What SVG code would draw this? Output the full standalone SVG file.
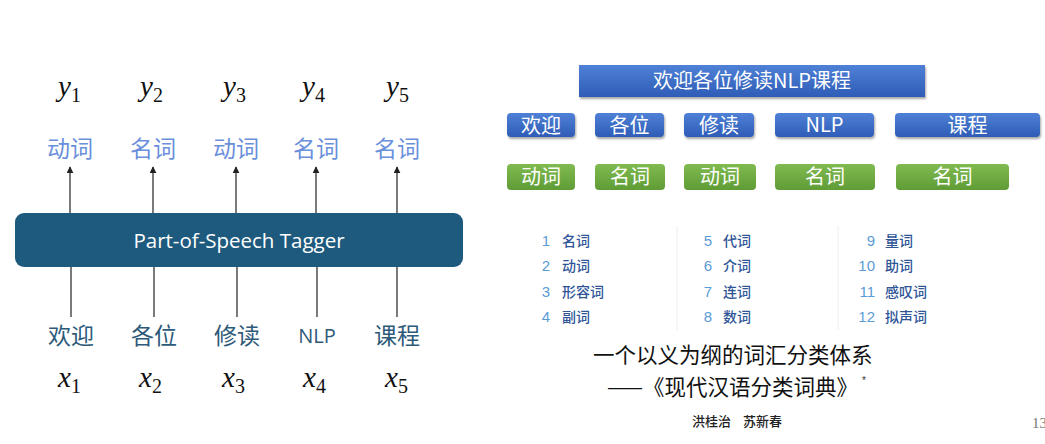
<svg xmlns="http://www.w3.org/2000/svg" width="1045" height="444" viewBox="0 0 1045 444">
  <style>
    .math { font-family: "Liberation Serif", "DejaVu Serif", serif; font-style: italic; font-size: 29px; fill: #111; }
    .sub { font-style: normal; font-size: 20px; }
    .pos { font-family: "Noto Sans CJK SC", "Noto Sans", sans-serif; font-size: 23px; fill: #6a8fdb; text-anchor: middle; }
    .word { font-family: "Noto Sans CJK SC", "Noto Sans", sans-serif; font-size: 23px; fill: #2e5a7a; text-anchor: middle; }
    .nlp { font-family: "Open Sans", "Noto Sans", sans-serif; font-size: 20px; }
    .tagger { font-family: "Open Sans", "Noto Sans", sans-serif; font-size: 20.5px; fill: #ffffff; text-anchor: middle; }
    .link { stroke: #333; stroke-width: 1.3; fill: none; }
    .btxt { font-family: "Noto Sans CJK SC", "Noto Sans", sans-serif; font-size: 20px; fill: #ffffff; text-anchor: middle; }
    .lnum { font-family: "Liberation Sans", "Noto Sans", sans-serif; font-size: 15px; fill: #5b9bd5; text-anchor: end; }
    .lword { font-family: "Noto Sans CJK SC", sans-serif; font-size: 14px; font-weight: 500; fill: #2f5597; }
    .big { font-family: "Noto Sans CJK SC", sans-serif; font-size: 21.5px; fill: #111; }
    .author { font-family: "Noto Sans CJK SC", sans-serif; font-size: 13px; font-weight: 500; fill: #222; }
  </style>
  <defs>
    <marker id="arrow" viewBox="0 0 10 10" refX="9" refY="5" markerWidth="7" markerHeight="7" markerUnits="userSpaceOnUse" orient="auto">
      <path d="M0,0 L10,5 L0,10 Z" fill="#222"/>
    </marker>
    <linearGradient id="blueGrad" x1="0" y1="0" x2="0" y2="1">
      <stop offset="0" stop-color="#4f81d6"/>
      <stop offset="1" stop-color="#2e5cb6"/>
    </linearGradient>
    <linearGradient id="greenGrad" x1="0" y1="0" x2="0" y2="1">
      <stop offset="0" stop-color="#80bb50"/>
      <stop offset="1" stop-color="#5f9c36"/>
    </linearGradient>
    <filter id="shadow" x="-10%" y="-30%" width="120%" height="170%">
      <feDropShadow dx="1" dy="2" stdDeviation="1.2" flood-color="#000" flood-opacity="0.35"/>
    </filter>
  </defs>

  <!-- Left: tagger pipeline -->
  <g id="outputs">
    <text class="math" x="58" y="96">y<tspan class="sub" dy="6">1</tspan></text>
    <text class="math" x="140" y="96">y<tspan class="sub" dy="6">2</tspan></text>
    <text class="math" x="223" y="96">y<tspan class="sub" dy="6">3</tspan></text>
    <text class="math" x="302" y="96">y<tspan class="sub" dy="6">4</tspan></text>
    <text class="math" x="386" y="96">y<tspan class="sub" dy="6">5</tspan></text>
  </g>
  <g id="tags">
    <text class="pos" x="70" y="157">动词</text>
    <text class="pos" x="153" y="157">名词</text>
    <text class="pos" x="236" y="157">动词</text>
    <text class="pos" x="316" y="157">名词</text>
    <text class="pos" x="397" y="157">名词</text>
  </g>
  <g id="connectors">
    <line class="link" x1="70" y1="213" x2="70" y2="167" marker-end="url(#arrow)"/>
    <line class="link" x1="153" y1="213" x2="153" y2="167" marker-end="url(#arrow)"/>
    <line class="link" x1="236" y1="213" x2="236" y2="167" marker-end="url(#arrow)"/>
    <line class="link" x1="316" y1="213" x2="316" y2="167" marker-end="url(#arrow)"/>
    <line class="link" x1="397" y1="213" x2="397" y2="167" marker-end="url(#arrow)"/>
    <line class="link" x1="71" y1="267" x2="71" y2="317"/>
    <line class="link" x1="154" y1="267" x2="154" y2="317"/>
    <line class="link" x1="237" y1="267" x2="237" y2="317"/>
    <line class="link" x1="317" y1="267" x2="317" y2="317"/>
    <line class="link" x1="397" y1="267" x2="397" y2="317"/>
  </g>
  <g id="tagger">
    <rect x="15" y="213" width="448" height="54" rx="9" fill="#1e5a7e"/>
    <text class="tagger" x="239" y="248">Part-of-Speech Tagger</text>
  </g>
  <g id="words">
    <text class="word" x="71" y="344">欢迎</text>
    <text class="word" x="154" y="344">各位</text>
    <text class="word" x="237" y="344">修读</text>
    <text class="word nlp" x="317" y="343">NLP</text>
    <text class="word" x="397" y="344">课程</text>
  </g>
  <g id="inputs">
    <text class="math" x="58" y="387">x<tspan class="sub" dy="6">1</tspan></text>
    <text class="math" x="139" y="387">x<tspan class="sub" dy="6">2</tspan></text>
    <text class="math" x="222" y="387">x<tspan class="sub" dy="6">3</tspan></text>
    <text class="math" x="303" y="387">x<tspan class="sub" dy="6">4</tspan></text>
    <text class="math" x="385" y="387">x<tspan class="sub" dy="6">5</tspan></text>
  </g>

  <!-- Right: segmentation and tag boxes -->
  <g id="sentence">
    <rect x="579" y="65" width="346" height="32" fill="url(#blueGrad)" filter="url(#shadow)"/>
    <text class="btxt" x="752" y="88">欢迎各位修读NLP课程</text>
  </g>
  <g id="seg-row">
    <rect x="507" y="113" width="68" height="24" rx="4" fill="url(#blueGrad)" filter="url(#shadow)"/>
    <text class="btxt" x="541" y="133">欢迎</text>
    <rect x="595" y="113" width="69" height="24" rx="4" fill="url(#blueGrad)" filter="url(#shadow)"/>
    <text class="btxt" x="629.5" y="133">各位</text>
    <rect x="684" y="113" width="70" height="24" rx="4" fill="url(#blueGrad)" filter="url(#shadow)"/>
    <text class="btxt" x="719" y="133">修读</text>
    <rect x="775" y="113" width="99" height="24" rx="4" fill="url(#blueGrad)" filter="url(#shadow)"/>
    <text class="btxt nlp" x="824.5" y="132">NLP</text>
    <rect x="895" y="113" width="145" height="24" rx="4" fill="url(#blueGrad)" filter="url(#shadow)"/>
    <text class="btxt" x="967.5" y="133">课程</text>
  </g>
  <g id="tag-row">
    <rect x="507" y="164" width="68" height="26" rx="4" fill="url(#greenGrad)"/>
    <text class="btxt" x="541" y="184">动词</text>
    <rect x="595" y="164" width="70" height="26" rx="4" fill="url(#greenGrad)"/>
    <text class="btxt" x="630" y="184">名词</text>
    <rect x="684" y="164" width="72" height="26" rx="4" fill="url(#greenGrad)"/>
    <text class="btxt" x="720" y="184">动词</text>
    <rect x="775" y="164" width="100" height="26" rx="4" fill="url(#greenGrad)"/>
    <text class="btxt" x="825" y="184">名词</text>
    <rect x="896" y="164" width="113" height="26" rx="4" fill="url(#greenGrad)"/>
    <text class="btxt" x="952.5" y="184">名词</text>
  </g>

  <!-- Twelve word classes -->
  <g id="class-list">
    <line x1="677" y1="226" x2="677" y2="330" stroke="#eeeeee" stroke-width="1"/>
    <line x1="838" y1="226" x2="838" y2="330" stroke="#eeeeee" stroke-width="1"/>
    <text class="lnum" x="550" y="246">1</text><text class="lword" x="562" y="246">名词</text>
    <text class="lnum" x="550" y="271">2</text><text class="lword" x="562" y="271">动词</text>
    <text class="lnum" x="550" y="297">3</text><text class="lword" x="562" y="297">形容词</text>
    <text class="lnum" x="550" y="322">4</text><text class="lword" x="562" y="322">副词</text>
    <text class="lnum" x="712" y="246">5</text><text class="lword" x="723" y="246">代词</text>
    <text class="lnum" x="712" y="271">6</text><text class="lword" x="723" y="271">介词</text>
    <text class="lnum" x="712" y="297">7</text><text class="lword" x="723" y="297">连词</text>
    <text class="lnum" x="712" y="322">8</text><text class="lword" x="723" y="322">数词</text>
    <text class="lnum" x="875" y="246">9</text><text class="lword" x="885" y="246">量词</text>
    <text class="lnum" x="875" y="271">10</text><text class="lword" x="885" y="271">助词</text>
    <text class="lnum" x="875" y="297">11</text><text class="lword" x="885" y="297">感叹词</text>
    <text class="lnum" x="875" y="322">12</text><text class="lword" x="885" y="322">拟声词</text>
  </g>

  <g id="citation">
    <text class="big" x="593" y="363">一个以义为纲的词汇分类体系</text>
    <text class="big" x="607" y="395">——《现代汉语分类词典》</text>
    <text x="862" y="384" font-family="Liberation Sans, sans-serif" font-size="10" fill="#333">*</text>
    <text class="author" x="692" y="426">洪桂治</text>
    <text class="author" x="743" y="426">苏新春</text>
    <text x="1032" y="428" font-family="Liberation Serif, serif" font-size="15" fill="#777">13</text>
  </g>
</svg>
